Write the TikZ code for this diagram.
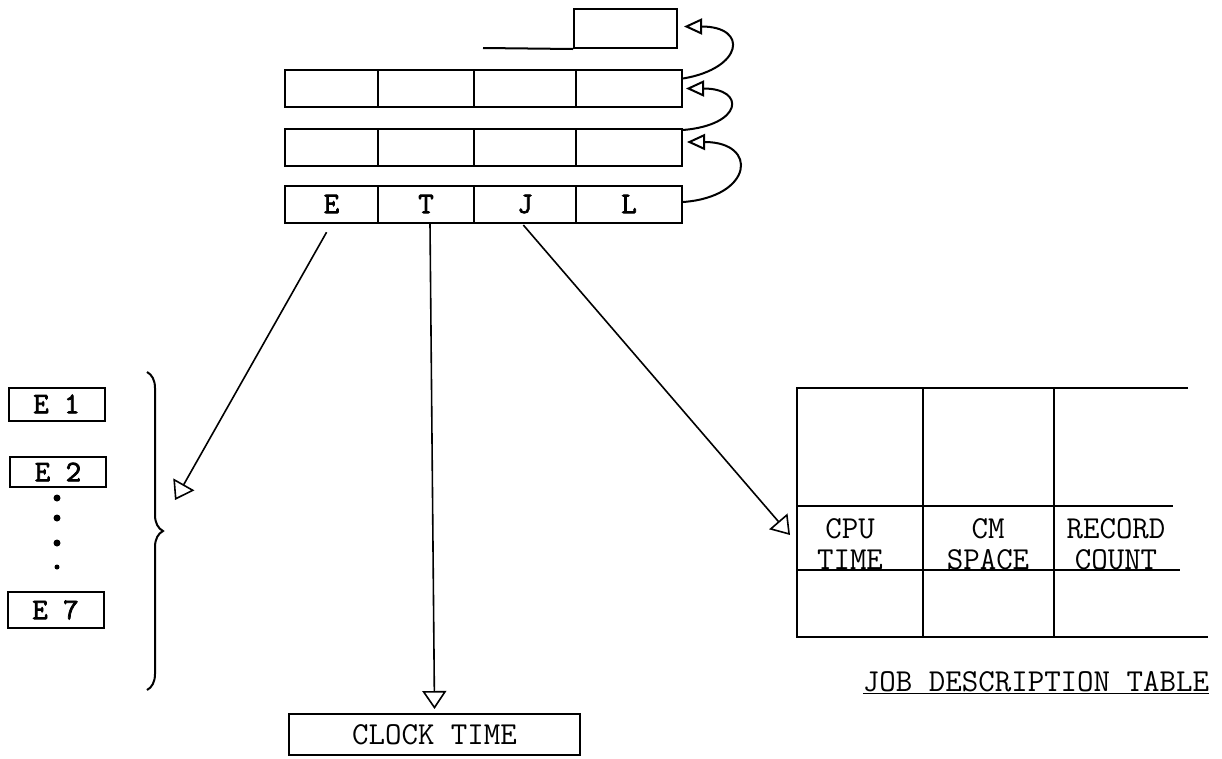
\documentclass[tikz,border=0pt]{standalone}
\usepackage{fontspec}
\newfontfamily\boldtt{Latin Modern Mono}[FakeBold=2.5]
\usetikzlibrary{positioning,arrows.meta,decorations.pathreplacing}

\begin{document}
\begin{tikzpicture}[x=1pt,y=-1pt,line width=2pt,
  font=\ttfamily\fontsize{32}{31}\selectfont,
  cell/.style={draw, minimum height=37pt, inner sep=0pt},
  ebox/.style={draw, minimum width=96pt, minimum height=33pt, inner sep=0pt,
    font=\boldtt\fontsize{30}{30}\selectfont},
  lnk/.style={-{Triangle[open,length=18pt,width=16pt]}, line width=2pt},
  ptr/.style={-{Triangle[open,length=18pt,width=24pt]}, line width=1.6pt}]
  \useasboundingbox (0,0) rectangle (1222,758);

  % Stack of entries
  \foreach \r/\y in {1/88.5,2/147,3/204} {
    \foreach \c/\x/\w in {1/331.5/93,2/426/96,3/525/102,4/629/106}
      \node[cell, minimum width=\w pt] (r\r c\c) at (\x,\y) {};
  }
  \foreach \c/\t in {1/E,2/T,3/J,4/L}
    \node[font=\boldtt\fontsize{30}{30}\selectfont] (lbl\c) at (r3c\c) {\t};

  % Partial entry at the top
  \node[cell, minimum width=103pt, minimum height=39pt] (top) at (625.5,28.5) {};
  \coordinate (topl) at (483,48);
  \draw (topl) -- (top.south west);

  % Links between entries
  \draw[lnk] ([yshift=2pt]r3c4.east) .. controls +(70,-5) and +(72,0) .. ([xshift=4pt,yshift=5pt]r2c4.east);
  \draw[lnk] ([yshift=17pt]r2c4.east) .. controls +(60,-5) and +(60,0) .. ([xshift=3pt]r1c4.east);
  \draw[lnk] ([yshift=10pt]r1c4.east) .. controls +(60,-10) and +(65,0) .. ([xshift=6pt,yshift=2pt]top.east);

  % Event list
  \node[ebox] (e1) at (56.5,404) {E 1};
  \node[ebox, minimum height=30pt] (e2) at (58,472) {E 2};
  \node[ebox, minimum height=36pt] (e7) at (55.5,610) {E 7};
  \foreach \y/\s in {498/3.5,518/3.5,543/3.5,567/2.5}
    \fill (57,\y) circle (\s pt);
  \draw[decorate, decoration={brace, amplitude=16pt}] (147,372) -- (147,690);
  \coordinate (bt) at (175,500);

  % Clock
  \node[draw, minimum width=291pt, minimum height=41pt, inner sep=0pt] (clock) at (434.5,734.5) {CLOCK TIME};

  % Job description table
  \draw (1188,388) -- (797,388) -- (797,637) -- (1208,637);
  \draw (797,506) -- (1173,506);
  \draw (797,570) -- (1180,570);
  \draw (923,388) -- (923,637);
  \draw (1054,388) -- (1054,637);
  \coordinate (jt) at (790,535);
  \node[align=center, inner sep=0pt] (cpu) at (850,544) {CPU\\TIME};
  \node[align=center, inner sep=0pt] (cms) at (988,544) {CM\\SPACE};
  \node[align=center, inner sep=0pt] (rec) at (1116,544) {RECORD\\COUNT};
  \node (jdt) at (1036,683) {\underline{JOB DESCRIPTION TABLE}};

  % Pointers
  \draw[ptr, shorten <=10pt] (r3c1.south) -- (bt);
  \draw[ptr] ([xshift=4pt]r3c2.south) -- ([yshift=4pt]clock.north);
  \draw[ptr, shorten <=2pt] ([xshift=-3pt]r3c3.south) -- (jt);
\end{tikzpicture}
\end{document}
